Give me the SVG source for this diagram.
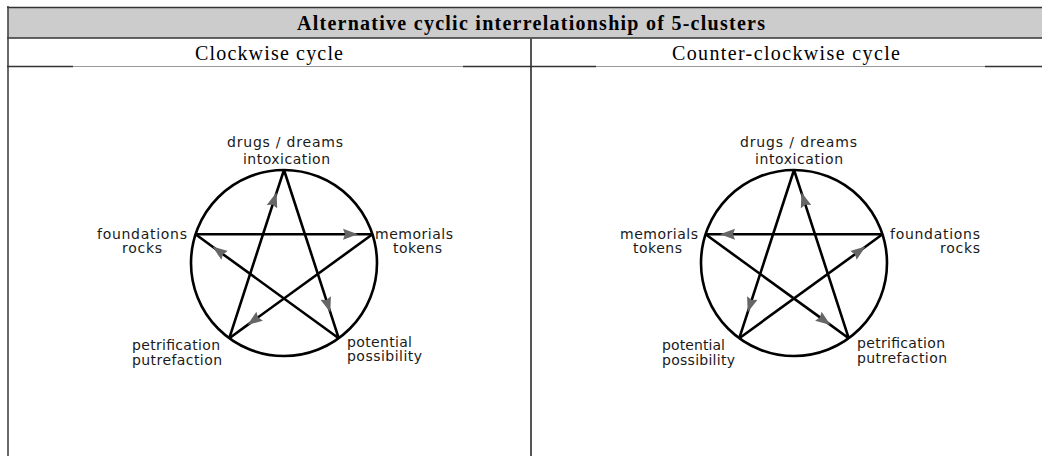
<svg xmlns="http://www.w3.org/2000/svg" width="1042" height="456" viewBox="0 0 1042 456">
<style>
.title{font-family:"Liberation Serif",serif;font-weight:bold;font-size:20px;fill:#000}
.sub{font-family:"Liberation Serif",serif;font-size:20px;fill:#000}
.lbl{font-family:"DejaVu Sans",Verdana,sans-serif;font-size:14px;fill:#1a1a1a}
.ring{fill:none;stroke:#000;stroke-width:2.6}
.edge{fill:none;stroke:#000;stroke-width:2.6;marker-mid:url(#arr)}
</style>
<defs>
<marker id="arr" viewBox="0 0 15 12" refX="14" refY="6" markerWidth="15" markerHeight="12" markerUnits="userSpaceOnUse" orient="auto">
<path d="M0,0.5 L15,6 L0,11.5 L2,6 z" fill="#666"/>
</marker>
</defs>
<rect width="1042" height="456" fill="#fff"/>
<g id="table">
<rect x="8" y="8" width="1034" height="30" fill="#cccccc"/>
<line x1="7" y1="7.5" x2="1042" y2="7.5" stroke="#333" stroke-width="1.5"/>
<line x1="7" y1="38" x2="1042" y2="38" stroke="#333" stroke-width="1.5"/>
<line x1="8" y1="6" x2="8" y2="456" stroke="#444" stroke-width="1.6"/>
<line x1="531" y1="38" x2="531" y2="456" stroke="#555" stroke-width="2"/>
<line x1="73" y1="66.5" x2="463" y2="66.5" stroke="#999" stroke-width="1"/>
<line x1="596" y1="66.5" x2="985" y2="66.5" stroke="#999" stroke-width="1"/>
<line x1="7" y1="66.5" x2="73" y2="66.5" stroke="#333" stroke-width="1.5"/>
<line x1="463" y1="66.5" x2="531" y2="66.5" stroke="#333" stroke-width="1.5"/>
<line x1="531" y1="66.5" x2="596" y2="66.5" stroke="#333" stroke-width="1.5"/>
<line x1="985" y1="66.5" x2="1042" y2="66.5" stroke="#333" stroke-width="1.5"/>
<text class="title" x="297" y="30" textLength="468" lengthAdjust="spacing">Alternative cyclic interrelationship of 5-clusters</text>
<text class="sub" x="195" y="60" textLength="148" lengthAdjust="spacing">Clockwise cycle</text>
<text class="sub" x="672" y="60" textLength="228" lengthAdjust="spacing">Counter-clockwise cycle</text>
</g>
<g id="left-ring"><circle class="ring" cx="284" cy="263" r="93"/></g>
<g id="right-ring"><circle class="ring" cx="794" cy="263" r="93"/></g>
<g id="connectors">
<path class="edge" d="M229.3,338.2 L276.3,193.3 L284,170"/>
<path class="edge" d="M195.5,234.3 L357,234.3 L372.5,234.3"/>
<path class="edge" d="M338.7,338.2 L213.3,247.2 L195.5,234.3"/>
<path class="edge" d="M284,170 L330,311.3 L338.7,338.2"/>
<path class="edge" d="M372.5,234.3 L248.3,324.4 L229.3,338.2"/>
<path class="edge" d="M848.7,338.2 L801.7,193.3 L794,170"/>
<path class="edge" d="M882.5,234.3 L721,234.3 L705.5,234.3"/>
<path class="edge" d="M739.3,338.2 L864.7,247.2 L882.5,234.3"/>
<path class="edge" d="M794,170 L748,311.3 L739.3,338.2"/>
<path class="edge" d="M705.5,234.3 L829.7,324.4 L848.7,338.2"/>
</g>
<g id="l-drugs"><text class="lbl" x="227" y="147" textLength="116" lengthAdjust="spacing">drugs / dreams</text><text class="lbl" x="243" y="164" textLength="87" lengthAdjust="spacing">intoxication</text></g>
<g id="l-foundations"><text class="lbl" x="97" y="239" textLength="90" lengthAdjust="spacing">foundations</text><text class="lbl" x="122" y="253" textLength="40" lengthAdjust="spacing">rocks</text></g>
<g id="l-memorials"><text class="lbl" x="375" y="239" textLength="78" lengthAdjust="spacing">memorials</text><text class="lbl" x="393" y="253" textLength="49" lengthAdjust="spacing">tokens</text></g>
<g id="l-petrification"><text class="lbl" x="132" y="350" textLength="88" lengthAdjust="spacing">petrification</text><text class="lbl" x="132" y="365" textLength="90" lengthAdjust="spacing">putrefaction</text></g>
<g id="l-potential"><text class="lbl" x="347" y="347" textLength="65" lengthAdjust="spacing">potential</text><text class="lbl" x="347" y="361" textLength="75" lengthAdjust="spacing">possibility</text></g>
<g id="r-drugs"><text class="lbl" x="740" y="147" textLength="117" lengthAdjust="spacing">drugs / dreams</text><text class="lbl" x="755" y="164" textLength="88" lengthAdjust="spacing">intoxication</text></g>
<g id="r-memorials"><text class="lbl" x="620" y="239" textLength="78" lengthAdjust="spacing">memorials</text><text class="lbl" x="633" y="253" textLength="49" lengthAdjust="spacing">tokens</text></g>
<g id="r-foundations"><text class="lbl" x="890" y="239" textLength="90" lengthAdjust="spacing">foundations</text><text class="lbl" x="940" y="253" textLength="40" lengthAdjust="spacing">rocks</text></g>
<g id="r-potential"><text class="lbl" x="662" y="350" textLength="63" lengthAdjust="spacing">potential</text><text class="lbl" x="662" y="365" textLength="73" lengthAdjust="spacing">possibility</text></g>
<g id="r-petrification"><text class="lbl" x="857" y="348" textLength="88" lengthAdjust="spacing">petrification</text><text class="lbl" x="857" y="363" textLength="90" lengthAdjust="spacing">putrefaction</text></g>
</svg>
